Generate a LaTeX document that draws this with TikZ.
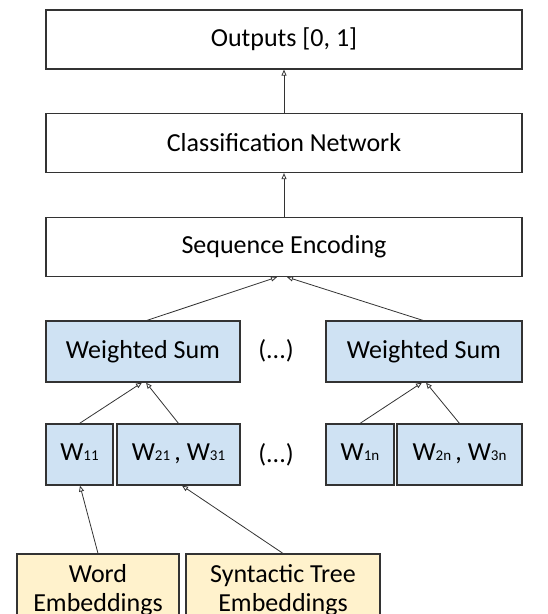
\documentclass[tikz,border=0pt]{standalone}
\usepackage{fontspec}
\setmainfont{Carlito}
\usepackage{tikz}
\usetikzlibrary{positioning}
\usetikzlibrary{calc}
\usetikzlibrary{arrows.meta}
\definecolor{wblue}{HTML}{CFE2F3}
\definecolor{eyellow}{HTML}{FFF2CC}
\definecolor{edge}{HTML}{333333}
\tikzset{>={Triangle[open, length=6pt, width=5pt]}}
\tikzset{layer/.style={rectangle, draw=edge, line width=1.2pt, minimum height=59pt, minimum width=476pt, inner sep=0pt, font=\fontsize{26}{29}\selectfont}}
\tikzset{wsum/.style={layer, fill=wblue, minimum width=#1, minimum height=61pt}}
\tikzset{weight/.style={layer, fill=wblue, minimum width=#1, minimum height=61pt, text height=17pt, text depth=5pt}}
\tikzset{embed/.style={layer, fill=eyellow, minimum width=#1, minimum height=72pt, align=center}}
\tikzset{link/.style={->, draw=edge, line width=0.8pt}}
\newcommand{\wsub}[1]{W{\fontsize{15}{15}\selectfont #1}}

\begin{document}
\begin{tikzpicture}[x=1pt, y=1pt]
    \useasboundingbox (0,0) rectangle (548,-614);

    % ------- Upper layers ------- %
    \node [layer] (out) at (284,-39.5) {Outputs [0, 1]};
    \node [layer] (cls) at (284,-143) {Classification Network};
    \node [layer] (seq) at (284,-247) {Sequence Encoding};

    \draw [link] (cls) -- (out);
    \draw [link] (seq) -- (cls);

    % ------- Weighted sums ------- %
    \node [wsum=194pt] (ws1) at (143,-351.5) {Weighted Sum};
    \node [font=\fontsize{26}{29}\selectfont] (dots1) at (276,-351) {(...)};
    \node [wsum=196pt] (wsn) at (424,-351.5) {Weighted Sum};

    \draw [link] ($(ws1.north)+(4,0)$) -- ($(seq.south)+(-7,0)$);
    \draw [link] ($(wsn.north)+(-1,0)$) -- ($(seq.south)+(3,0)$);

    % ------- Weights ------- %
    \node [weight=67pt] (w11) at (79.5,-454.5) {\wsub{11}};
    \node [weight=123pt] (w21) at (178.5,-454.5) {\wsub{21}\,, \wsub{31}};
    \node [font=\fontsize{26}{29}\selectfont] (dots2) at (276,-455) {(...)};
    \node [weight=68pt] (w1n) at (360,-454.5) {\wsub{1n}};
    \node [weight=125pt] (w2n) at (459.5,-454.5) {\wsub{2n}\,, \wsub{3n}};

    \draw [link] (w11.north) -- ($(ws1.south)+(-1,0)$);
    \draw [link] (w21.north) -- ($(ws1.south)+(3,0)$);
    \draw [link] (w1n.north) -- ($(wsn.south)+(-2,0)$);
    \draw [link] (w2n.north) -- ($(wsn.south)+(2,0)$);

    % ------- Embeddings ------- %
    \node [embed=162pt] (word) at (98,-590) {Word\\Embeddings};
    \node [embed=194pt] (syn) at (283,-590) {Syntactic Tree\\Embeddings};

    \draw [link] (word.north) -- ($(w11.south)+(0.5,0)$);
    \draw [link] (syn.north) -- ($(w21.south)+(3.5,0)$);
\end{tikzpicture}
\end{document}
